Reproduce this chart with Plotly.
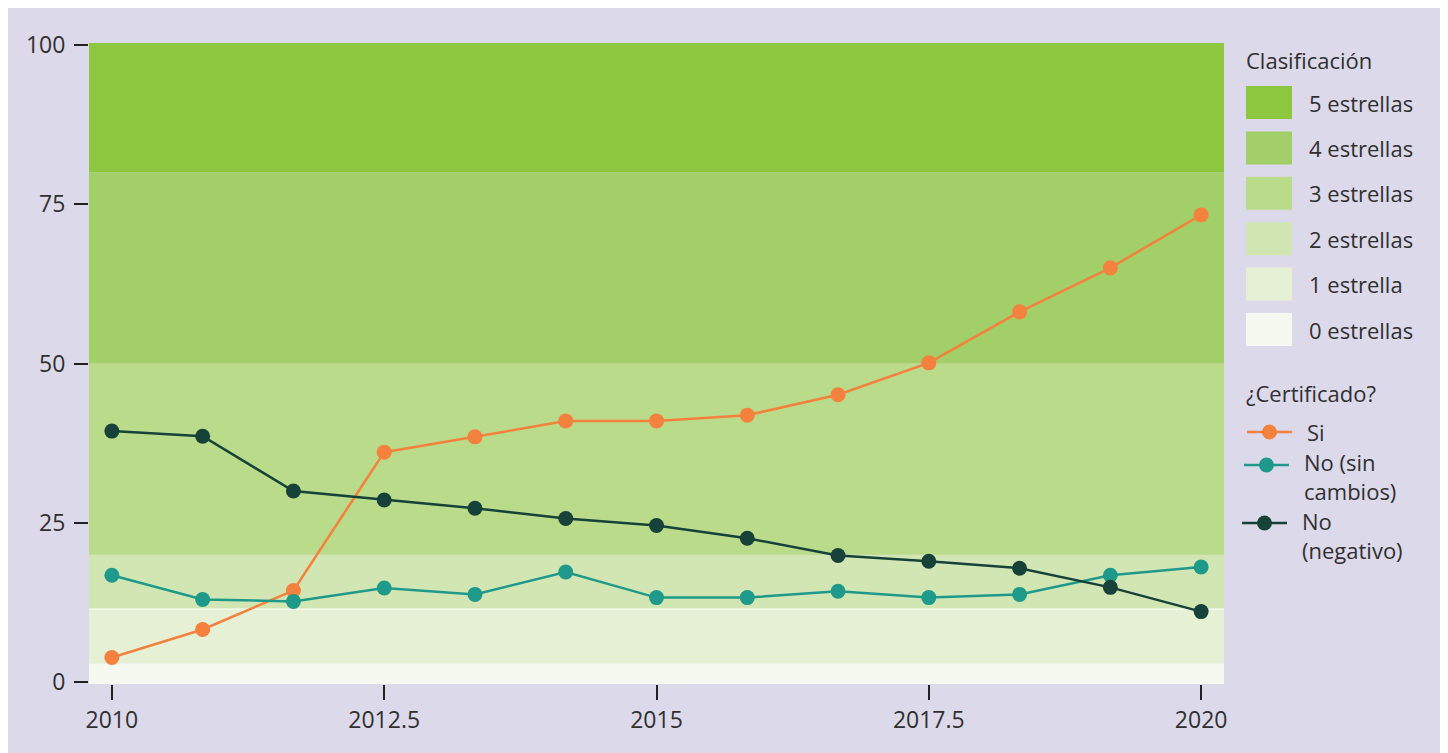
import plotly.graph_objects as go

# ---- data ----
years = [2010 + i * 10 / 12 for i in range(13)]
si = [3.9, 8.3, 14.4, 36.1, 38.5, 41.0, 41.0, 41.9, 45.1, 50.1, 58.1, 65.0, 73.3]
no_sin_cambios = [16.8, 13.0, 12.7, 14.8, 13.8, 17.3, 13.3, 13.3, 14.3, 13.3, 13.8, 16.8, 18.1]
no_negativo = [39.4, 38.6, 30.0, 28.6, 27.3, 25.7, 24.6, 22.6, 19.9, 19.0, 17.9, 14.9, 11.1]

series_names = ["Si", "No (sin<br>cambios)", "No<br>(negativo)"]
series_colors = ["#f4813d", "#1f9a8a", "#17423a"]

band_labels = ["0 estrellas", "1 estrella", "2 estrellas", "3 estrellas", "4 estrellas", "5 estrellas"]
band_edges = [-0.25, 3, 11.5, 20, 50, 80, 100.25]
band_colors = ["#f6f9f0", "#e5f0d5", "#d2e6b3", "#badb8a", "#a3cf68", "#8dc63f"]

x_ticks = [2010, 2012.5, 2015, 2017.5, 2020]
x_ticktext = ["2010", "2012.5", "2015", "2017.5", "2020"]
y_ticks = [0, 25, 50, 75, 100]

# ---- layout geometry (page pixel coords; page has an 8px body offset) ----
OFF = 8
W, H = 1448 - OFF, 753 - OFF
L, R, T, B = 89, 1224, 43, 684
FONT = "Open Sans"
TXT = "#303030"
LEG = 22


def px(xp):
    return (xp - L) / (R - L)


def py(yp):
    return (B - yp) / (B - T)


fig = go.Figure()

for ys, name, col in zip([si, no_sin_cambios, no_negativo], series_names, series_colors):
    fig.add_trace(go.Scatter(
        x=years, y=ys, mode="lines+markers", name=name,
        line=dict(color=col, width=2.5),
        marker=dict(color=col, size=15),
        showlegend=False,
    ))

shapes = []
annotations = []

# background bands
for i, col in enumerate(band_colors):
    shapes.append(dict(type="rect", xref="x domain", yref="y", x0=0, x1=1,
                       y0=band_edges[i], y1=band_edges[i + 1],
                       fillcolor=col, line=dict(width=0), layer="below"))
shapes.append(dict(type="line", xref="x domain", yref="y", x0=0, x1=1,
                   y0=band_edges[2], y1=band_edges[2],
                   line=dict(color="white", width=1), layer="below"))

# custom legend: Clasificación
annotations.append(dict(xref="paper", yref="paper", x=px(1244), y=py(60),
                        text="Clasificación", showarrow=False, xanchor="left", yanchor="middle",
                        font=dict(family=FONT, size=LEG, color=TXT)))
for k, (lab, col) in enumerate(zip(band_labels[::-1], band_colors[::-1])):
    top = 86 + k * 45.4
    shapes.append(dict(type="rect", xref="paper", yref="paper",
                       x0=px(1246), x1=px(1292), y0=py(top + 33), y1=py(top),
                       fillcolor=col, line=dict(width=0)))
    annotations.append(dict(xref="paper", yref="paper", x=px(1307), y=py(top + 16.5),
                            text=lab, showarrow=False, xanchor="left", yanchor="middle",
                            font=dict(family=FONT, size=LEG, color=TXT)))

# custom legend: ¿Certificado?
annotations.append(dict(xref="paper", yref="paper", x=px(1244), y=py(393),
                        text="¿Certificado?", showarrow=False, xanchor="left", yanchor="middle",
                        font=dict(family=FONT, size=LEG, color=TXT)))
leg_lines = [(1247, 1292, 432, 1305, 432), (1244, 1289, 465, 1302, 476), (1242, 1287, 523, 1300, 535)]
for (x0, x1, yl, xt, yt), name, col in zip(leg_lines, series_names, series_colors):
    shapes.append(dict(type="line", xref="paper", yref="paper",
                       x0=px(x0), x1=px(x1), y0=py(yl), y1=py(yl),
                       line=dict(color=col, width=2.5)))
    cx = (x0 + x1) / 2
    shapes.append(dict(type="circle", xref="paper", yref="paper",
                       x0=px(cx - 7.5), x1=px(cx + 7.5), y0=py(yl + 7.5), y1=py(yl - 7.5),
                       fillcolor=col, line=dict(width=0)))
    annotations.append(dict(xref="paper", yref="paper", x=px(xt), y=py(yt),
                            text=name, showarrow=False, xanchor="left", yanchor="middle",
                            align="left",
                            font=dict(family=FONT, size=LEG, color=TXT)))

fig.update_layout(
    width=W, height=H,
    margin=dict(l=L - OFF, r=W - (R - OFF), t=T - OFF, b=H - (B - OFF), pad=0),
    paper_bgcolor="#dcd9eb",
    plot_bgcolor="#dcd9eb",
    font=dict(family=FONT, size=LEG, color=TXT),
    shapes=shapes,
    annotations=annotations,
    showlegend=False,
)
fig.update_xaxes(range=[2009.79, 2020.21], tickvals=x_ticks, ticktext=x_ticktext,
                 ticks="outside", ticklen=15, tickwidth=2, tickcolor="#222",
                 showgrid=False, zeroline=False, showline=False,
                 tickfont=dict(family=FONT, size=23, color=TXT))
fig.update_yaxes(range=[band_edges[0], band_edges[-1]], tickvals=y_ticks,
                 ticks="outside", ticklen=14, tickwidth=2, tickcolor="#222",
                 showgrid=False, zeroline=False, showline=False, ticklabelstandoff=4,
                 tickfont=dict(family=FONT, size=23, color=TXT))

fig.write_html("out.html")
